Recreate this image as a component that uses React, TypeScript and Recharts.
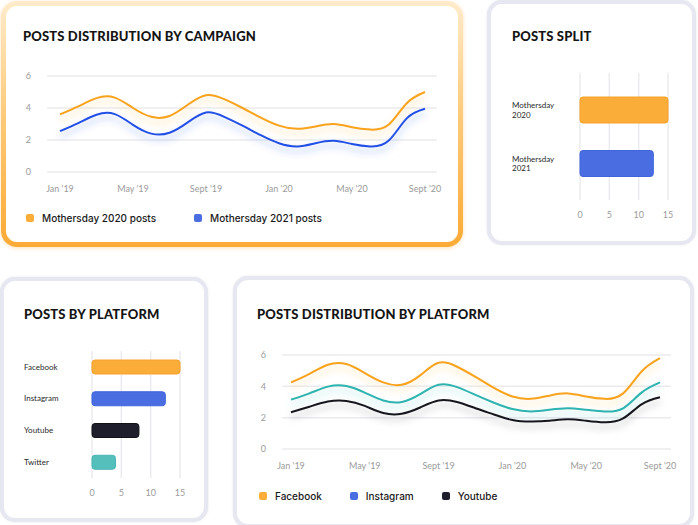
import React from "react";
import {
  LineChart,
  Line,
  BarChart,
  Bar,
  Cell,
  XAxis,
  YAxis,
  CartesianGrid,
} from "recharts";

// --- data -------------------------------------------------------------
const months = [
  "Jan '19", "Feb '19", "Mar '19", "Apr '19", "May '19", "Jun '19", "Jul '19",
  "Aug '19", "Sept '19", "Oct '19", "Nov '19", "Dec '19", "Jan '20", "Feb '20",
  "Mar '20", "Apr '20", "May '20", "Jun '20", "Jul '20", "Aug '20", "Sept '20",
];

const mothersday2020 = [3.6, 4.1, 4.62, 4.65, 4.0, 3.45, 3.5, 4.2, 4.8, 4.55, 4.0, 3.4, 2.9, 2.7, 2.85, 3.0, 2.8, 2.65, 2.95, 4.3, 5.0];
const mothersday2021 = [2.55, 3.05, 3.58, 3.62, 2.95, 2.4, 2.45, 3.1, 3.72, 3.45, 2.9, 2.3, 1.8, 1.6, 1.8, 1.95, 1.75, 1.6, 1.95, 3.35, 3.95];

const facebookPosts = [4.25, 4.8, 5.38, 5.42, 4.85, 4.25, 4.1, 4.7, 5.5, 5.25, 4.6, 3.9, 3.35, 3.2, 3.4, 3.55, 3.35, 3.2, 3.55, 4.95, 5.8];
const instagramPosts = [3.15, 3.55, 3.98, 4.02, 3.6, 3.1, 3.0, 3.5, 4.1, 3.95, 3.45, 2.95, 2.55, 2.4, 2.5, 2.6, 2.5, 2.4, 2.6, 3.6, 4.25];
const youtubePosts = [2.35, 2.7, 3.03, 3.07, 2.75, 2.3, 2.25, 2.65, 3.1, 3.0, 2.6, 2.2, 1.85, 1.75, 1.8, 1.9, 1.8, 1.7, 1.95, 2.85, 3.3];

const splitNames = ["Mothersday 2020", "Mothersday 2021"];
const splitValues = [15, 12.5];

const platformNames = ["Facebook", "Instagram", "Youtube", "Twitter"];
const platformValues = [15, 12.5, 8, 4];

const lineTicks = [0, 2, 4, 6];
const barTicks = [0, 5, 10, 15];

// --- colours ----------------------------------------------------------
const ORANGE = "#F9A21E";
const BLUE = "#2350E6";
const TEAL = "#2DB3AE";
const BLACK = "#17171F";
const splitColors = ["#FBAD3A", "#4A6EE2"];
const splitStrokes = ["#F6A12A", "#3F63DA"];
const platformColors = ["#FBAD3A", "#4A6EE2", "#1E1E2C", "#55BFBC"];
const platformStrokes = ["#F6A12A", "#3F63DA", "#111118", "#47B5B2"];

const campaignLegend = [
  { name: "Mothersday 2020 posts", color: "#FBAD3A" },
  { name: "Mothersday 2021 posts", color: "#4A6EE2" },
];
const platformLegend = [
  { name: "Facebook", color: "#FBAD3A" },
  { name: "Instagram", color: "#4A6EE2" },
  { name: "Youtube", color: "#1E1E2C" },
];

const campaignData = months.map((m, i) => ({
  month: m,
  y2020: mothersday2020[i],
  y2021: mothersday2021[i],
}));
const platformLineData = months.map((m, i) => ({
  month: m,
  facebook: facebookPosts[i],
  instagram: instagramPosts[i],
  youtube: youtubePosts[i],
}));
const splitData = splitNames.map((n, i) => ({ name: n, value: splitValues[i] }));
const platformData = platformNames.map((n, i) => ({ name: n, value: platformValues[i] }));

const FONT = "Lato, 'Open Sans', sans-serif";
const AXIS_TICK = { fontSize: 9, fill: "#9b9b9b", fontFamily: FONT };
const GRID = "#ebebef";

function Card({ left, top, width, height, highlight = false }: any) {
  if (highlight) {
    return (
      <div
        style={{
          position: "absolute",
          left,
          top,
          width,
          height,
          boxSizing: "border-box",
          padding: 5,
          borderRadius: 16,
          background: "linear-gradient(180deg, #FFEBCB 0%, #FDCB7C 45%, #FBAA35 100%)",
          boxShadow: "0 1px 4px rgba(251,170,53,0.35)",
        }}
      >
        <div style={{ width: "100%", height: "100%", background: "#fff", borderRadius: 11 }} />
      </div>
    );
  }
  return (
    <div
      style={{
        position: "absolute",
        left,
        top,
        width,
        height,
        boxSizing: "border-box",
        border: "4px solid #E7E7F1",
        borderRadius: 15,
        background: "#fff",
        boxShadow: "0 0 2px rgba(200,200,220,0.5)",
      }}
    />
  );
}

function Title({ left, top, text }: any) {
  return (
    <div
      style={{
        position: "absolute",
        left,
        top,
        fontFamily: FONT,
        fontWeight: 900,
        fontSize: 13,
        lineHeight: "13px",
        letterSpacing: 0.15,
        color: "#141414",
        whiteSpace: "nowrap",
      }}
    >
      {text}
    </div>
  );
}

function LegendRow({ left, top, items, gap }: any) {
  return (
    <div
      style={{
        position: "absolute",
        left,
        top,
        display: "flex",
        alignItems: "center",
        gap,
        fontFamily: "Inter, sans-serif",
        fontWeight: 500,
        fontSize: 10,
        color: "#1a1a1a",
        whiteSpace: "nowrap",
      }}
    >
      {items.map((it: any) => (
        <div key={it.name} style={{ display: "flex", alignItems: "center" }}>
          <span
            style={{
              display: "inline-block",
              width: 8,
              height: 8,
              borderRadius: 2,
              background: it.color,
              marginRight: 8,
            }}
          />
          {it.name}
        </div>
      ))}
    </div>
  );
}

function Glow({ id, color, opacity }: any) {
  return (
    <filter id={id} x="-10%" y="-60%" width="120%" height="260%">
      <feDropShadow dx="0" dy="5" stdDeviation="3.5" floodColor={color} floodOpacity={opacity} />
    </filter>
  );
}

function SplitTick({ x, y, payload }: any) {
  const parts = String(payload.value).split(" ");
  const left = x - 68;
  return (
    <text fontFamily={FONT} fontSize={8} fill="#2a2a2a" textAnchor="start">
      <tspan x={left} y={y - 1.5}>{parts[0]}</tspan>
      <tspan x={left} y={y + 7.8}>{parts[1]}</tspan>
    </text>
  );
}

function PlatformTick({ x, y, payload }: any) {
  return (
    <text x={x - 68} y={y + 2.8} fontFamily={FONT} fontSize={8} fill="#2a2a2a" textAnchor="start">
      {payload.value}
    </text>
  );
}

export default function App() {
  return (
    <div
      style={{
        position: "absolute",
        left: 0,
        top: 0,
        width: 698,
        height: 525,
        background: "#fff",
        overflow: "hidden",
        fontFamily: FONT,
      }}
    >
      <Card left={1} top={1} width={462} height={246} highlight />
      <Card left={487} top={0} width={209} height={245} />
      <Card left={0} top={277} width={208} height={245} />
      <Card left={233} top={276} width={461} height={252} />

      <Title left={23} top={30} text="POSTS DISTRIBUTION BY CAMPAIGN" />
      <Title left={512} top={30} text="POSTS SPLIT" />
      <Title left={24} top={308} text="POSTS BY PLATFORM" />
      <Title left={257} top={308} text="POSTS DISTRIBUTION BY PLATFORM" />

      {/* campaign lines */}
      <div style={{ position: "absolute", left: 0, top: 60 }}>
        <LineChart width={460} height={145} data={campaignData} margin={{ top: 16, right: 23, left: 17, bottom: 3 }}>
          <defs>
            <Glow id="glowOrange" color={ORANGE} opacity={0.35} />
            <Glow id="glowBlue" color={BLUE} opacity={0.35} />
          </defs>
          <CartesianGrid vertical={false} stroke={GRID} strokeWidth={1.5} />
          <XAxis
            dataKey="month"
            axisLine={false}
            tickLine={false}
            interval={3}
            padding={{ left: 13, right: 12 }}
            tick={AXIS_TICK}
            tickMargin={8}
            height={30}
          />
          <YAxis
            domain={[0, 6]}
            ticks={lineTicks}
            axisLine={false}
            tickLine={false}
            width={30}
            tick={AXIS_TICK}
            tickMargin={10}
          />
          <Line type="natural" dataKey="y2020" stroke={ORANGE} strokeWidth={2} dot={false} filter="url(#glowOrange)" isAnimationActive={false} />
          <Line type="natural" dataKey="y2021" stroke={BLUE} strokeWidth={2} dot={false} filter="url(#glowBlue)" isAnimationActive={false} />
        </LineChart>
      </div>
      <LegendRow left={26} top={212} items={campaignLegend} gap={38} />

      {/* posts split */}
      <div style={{ position: "absolute", left: 490, top: 60 }}>
        <BarChart layout="vertical" width={200} height={170} data={splitData} margin={{ top: 13, right: 22, left: 22, bottom: 5 }}>
          <CartesianGrid horizontal={false} stroke={GRID} strokeWidth={1.5} />
          <XAxis type="number" domain={[0, 15]} ticks={barTicks} axisLine={false} tickLine={false} tick={AXIS_TICK} tickMargin={6} height={25} />
          <YAxis
            type="category"
            dataKey="name"
            width={68}
            axisLine={false}
            tickLine={false}
            tickSize={0}
            tickMargin={0}
            padding={{ top: 10, bottom: 10 }}
            tick={<SplitTick />}
          />
          <Bar dataKey="value" barSize={26} radius={3} isAnimationActive={false}>
            {splitData.map((d, i) => (
              <Cell key={d.name} fill={splitColors[i]} stroke={splitStrokes[i]} strokeWidth={1} />
            ))}
          </Bar>
        </BarChart>
      </div>

      {/* posts by platform */}
      <div style={{ position: "absolute", left: 10, top: 340 }}>
        <BarChart layout="vertical" width={190} height={170} data={platformData} margin={{ top: 11, right: 20, left: 14, bottom: 7 }}>
          <CartesianGrid horizontal={false} stroke={GRID} strokeWidth={1.5} />
          <XAxis type="number" domain={[0, 15]} ticks={barTicks} axisLine={false} tickLine={false} tick={AXIS_TICK} tickMargin={6} height={25} />
          <YAxis
            type="category"
            dataKey="name"
            width={68}
            axisLine={false}
            tickLine={false}
            tickSize={0}
            tickMargin={0}
            tick={<PlatformTick />}
          />
          <Bar dataKey="value" barSize={14} radius={3} isAnimationActive={false}>
            {platformData.map((d, i) => (
              <Cell key={d.name} fill={platformColors[i]} stroke={platformStrokes[i]} strokeWidth={1} />
            ))}
          </Bar>
        </BarChart>
      </div>

      {/* platform lines */}
      <div style={{ position: "absolute", left: 233, top: 340 }}>
        <LineChart width={462} height={145} data={platformLineData} margin={{ top: 15, right: 24, left: 19, bottom: 6 }}>
          <defs>
            <Glow id="glowOrange2" color={ORANGE} opacity={0.3} />
            <Glow id="glowTeal" color={TEAL} opacity={0.3} />
            <Glow id="glowBlack" color="#000" opacity={0.25} />
          </defs>
          <CartesianGrid vertical={false} stroke={GRID} strokeWidth={1.5} />
          <XAxis
            dataKey="month"
            axisLine={false}
            tickLine={false}
            interval={3}
            padding={{ left: 9, right: 11 }}
            tick={AXIS_TICK}
            tickMargin={8}
            height={30}
          />
          <YAxis
            domain={[0, 6]}
            ticks={lineTicks}
            axisLine={false}
            tickLine={false}
            width={30}
            tick={AXIS_TICK}
            tickMargin={10}
          />
          <Line type="natural" dataKey="facebook" stroke={ORANGE} strokeWidth={2} dot={false} filter="url(#glowOrange2)" isAnimationActive={false} />
          <Line type="natural" dataKey="instagram" stroke={TEAL} strokeWidth={2} dot={false} filter="url(#glowTeal)" isAnimationActive={false} />
          <Line type="natural" dataKey="youtube" stroke={BLACK} strokeWidth={2} dot={false} filter="url(#glowBlack)" isAnimationActive={false} />
        </LineChart>
      </div>
      <LegendRow left={259} top={490} items={platformLegend} gap={28} />
    </div>
  );
}
